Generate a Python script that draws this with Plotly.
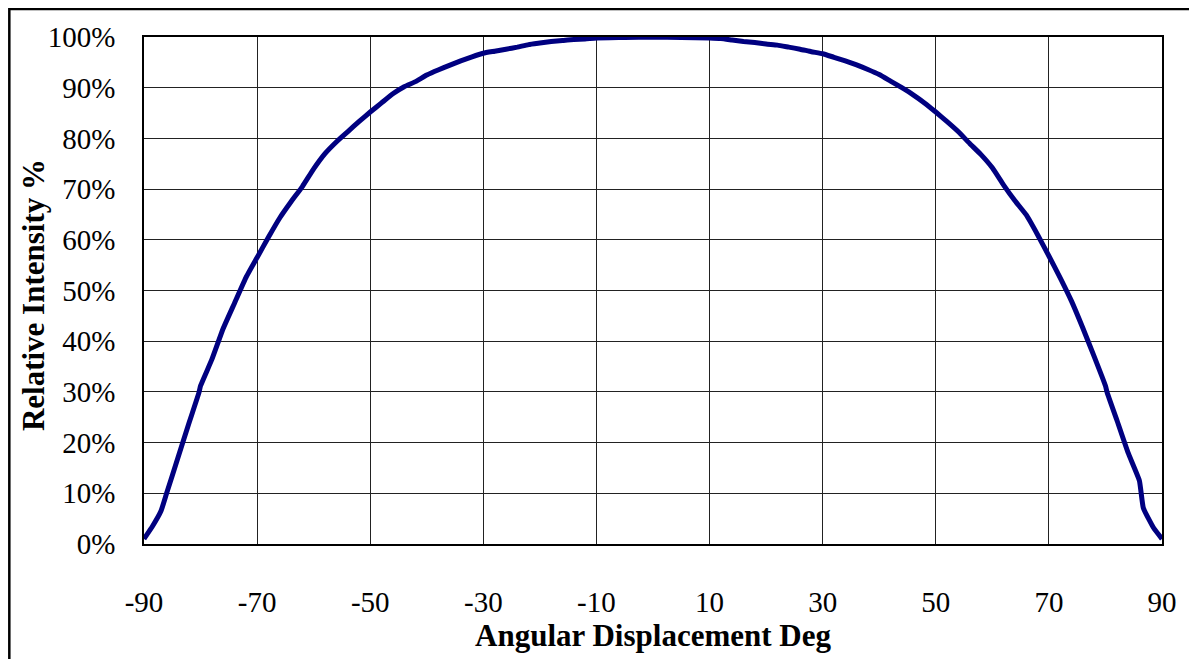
import plotly.graph_objects as go

angle_deg = [-90, -88.5, -87, -86, -84, -82, -80.3, -80, -78, -76, -74, -72, -70, -68, -66, -64, -62,
             -60, -58, -56, -54, -52, -50, -48, -46, -44, -42, -40, -38, -36, -34, -32, -30, -28,
             -26, -24, -22, -20, -18, -16, -14, -12, -10, -5, 0, 5, 10, 12, 14, 16, 18, 20, 22,
             24, 26, 28, 30, 32, 34, 36, 38, 40, 42, 44, 46, 48, 50, 52, 54, 56, 58, 60, 62, 64,
             66, 68, 70, 72, 74, 76, 78, 80, 80.3, 82, 84, 86, 86.7, 88.5, 90]
intensity_pct = [1.0, 3.5, 6.5, 10.0, 17.0, 24.0, 29.8, 31.2, 36.4, 42.5, 47.5, 52.5, 56.5, 60.5, 64.3,
                 67.5, 70.5, 74.0, 77.0, 79.3, 81.3, 83.3, 85.2, 87.0, 88.8, 90.2, 91.2, 92.5, 93.5,
                 94.4, 95.3, 96.1, 96.8, 97.2, 97.6, 98.0, 98.5, 98.8, 99.1, 99.3, 99.5, 99.6, 99.8,
                 99.9, 100.0, 99.9, 99.8, 99.7, 99.4, 99.1, 98.9, 98.6, 98.4, 98.0, 97.6, 97.1, 96.7,
                 96.0, 95.3, 94.5, 93.6, 92.6, 91.3, 90.0, 88.6, 87.0, 85.2, 83.3, 81.3, 79.0, 76.8,
                 74.2, 70.8, 67.7, 64.9, 61.0, 56.8, 52.5, 47.9, 42.6, 37.0, 31.2, 29.9, 24.5, 18.0,
                 12.5, 7.1, 3.2, 1.0]

x_ticks = [-90, -70, -50, -30, -10, 10, 30, 50, 70, 90]
y_ticks = [0, 10, 20, 30, 40, 50, 60, 70, 80, 90, 100]

FONT = "Liberation Serif, Times New Roman, serif"
TICK_SIZE = 29
TITLE_SIZE = 31

fig = go.Figure()
fig.add_trace(go.Scatter(
    x=angle_deg, y=intensity_pct, mode="lines",
    line=dict(color="#000080", width=5, shape="spline", smoothing=0.4),
    showlegend=False, hoverinfo="skip",
))

fig.update_layout(
    width=1189, height=651,
    margin=dict(l=136, r=35, t=29, b=109),
    paper_bgcolor="white", plot_bgcolor="white",
    font=dict(family=FONT, size=TICK_SIZE, color="black"),
    shapes=[dict(type="rect", xref="paper", yref="paper",
                 x0=-0.1323, x1=1.04, y0=-0.24, y1=1.0553,
                 line=dict(color="black", width=2.5), layer="below")],
    annotations=[dict(text="<b>Relative Intensity %</b>", xref="paper", yref="paper",
                      x=-0.109, y=0.491, xanchor="center", yanchor="middle",
                      textangle=-90, showarrow=False,
                      font=dict(family=FONT, size=TITLE_SIZE, color="black"))],
)

fig.update_xaxes(
    range=[-90, 90], tickmode="array", tickvals=x_ticks, ticktext=[str(v) for v in x_ticks],
    showgrid=True, gridcolor="#222", gridwidth=1,
    showline=True, linecolor="black", linewidth=1.5, mirror=True,
    zeroline=False, ticks="", ticklabelstandoff=31,
    tickfont=dict(family=FONT, size=TICK_SIZE, color="black"),
    title=dict(text="<b>Angular Displacement Deg</b>", standoff=8,
               font=dict(family=FONT, size=TITLE_SIZE, color="black")),
)
fig.update_yaxes(
    range=[0, 100], tickmode="array", tickvals=y_ticks, ticktext=[f"{v}%" for v in y_ticks],
    showgrid=True, gridcolor="#222", gridwidth=1,
    showline=True, linecolor="black", linewidth=1.5, mirror=True,
    zeroline=False, ticks="", ticklabelstandoff=21,
    tickfont=dict(family=FONT, size=TICK_SIZE, color="black"),
)

fig.write_html("out.html")
